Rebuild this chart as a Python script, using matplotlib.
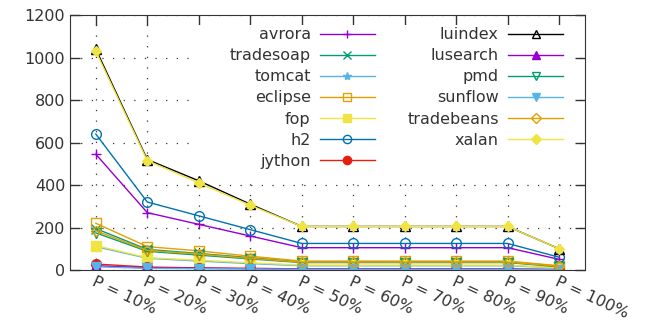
import matplotlib
matplotlib.use("Agg")
import matplotlib.pyplot as plt
from matplotlib.patches import Rectangle

labels = ["P = 10%", "P = 20%", "P = 30%", "P = 40%", "P = 50%",
          "P = 60%", "P = 70%", "P = 80%", "P = 90%", "P = 100%"]

avrora     = [545, 270, 215, 160, 105, 105, 105, 105, 105, 50]
tradesoap  = [195, 97, 78, 58, 38, 38, 38, 38, 38, 18]
tomcat     = [110, 55, 42, 30, 20, 20, 20, 20, 20, 10]
eclipse    = [220, 110, 90, 65, 42, 42, 42, 42, 42, 20]
fop        = [115, 58, 46, 34, 23, 23, 23, 23, 23, 10]
h2         = [640, 320, 255, 190, 125, 125, 125, 125, 125, 60]
jython     = [28, 14, 10, 8, 5, 5, 5, 5, 5, 2]
luindex    = [1040, 520, 420, 310, 205, 205, 205, 205, 205, 100]
lusearch   = [20, 10, 8, 6, 4, 4, 4, 4, 4, 2]
pmd        = [175, 88, 70, 52, 35, 35, 35, 35, 35, 15]
sunflow    = [15, 8, 6, 5, 3, 3, 3, 3, 3, 1]
tradebeans = [185, 92, 75, 55, 37, 37, 37, 37, 37, 17]
xalan      = [1030, 515, 410, 305, 205, 205, 205, 205, 205, 100]

# name, data, colour, marker, filled
series = [
    ("avrora", avrora, "#9400d3", "+", True),
    ("tradesoap", tradesoap, "#009e73", "x", True),
    ("tomcat", tomcat, "#56b4e9", "*", True),
    ("eclipse", eclipse, "#e69f00", "s", False),
    ("fop", fop, "#f0e442", "s", True),
    ("h2", h2, "#0072b2", "o", False),
    ("jython", jython, "#e51e10", "o", True),
    ("luindex", luindex, "#000000", "^", False),
    ("lusearch", lusearch, "#9400d3", "^", True),
    ("pmd", pmd, "#009e73", "v", False),
    ("sunflow", sunflow, "#56b4e9", "v", True),
    ("tradebeans", tradebeans, "#e69f00", "D", False),
    ("xalan", xalan, "#f0e442", "D", True),
]

plt.rcParams["font.family"] = "DejaVu Sans"
plt.rcParams["font.size"] = 11.5

fig = plt.figure(figsize=(6.55, 3.22), dpi=100)
ax = fig.add_axes([0.107, 0.1615, 0.786, 0.7915])

x = list(range(len(labels)))
for name, vals, col, mk, filled in series:
    ms = 5.5 if mk == "D" else 7
    ax.plot(x, vals, color=col, lw=1.0, marker=mk, markersize=ms,
            markerfacecolor=col if filled else "none",
            markeredgecolor=col, markeredgewidth=1.0, label=name)

ax.set_xlim(-0.5, 9.5)
ax.set_ylim(0, 1200)
ax.set_yticks(range(0, 1201, 200))
ax.set_xticks(x)
ax.set_xticklabels(labels, rotation=-25, ha="left", va="top",
                   rotation_mode="anchor", color="#333333")
for t in ax.get_yticklabels():
    t.set_color("#333333")

ax.tick_params(direction="in", length=7, top=True, right=True, width=1,
               color="#333333")
ax.tick_params(axis="x", pad=3)
ax.grid(True, color="#333333", linestyle=(0, (1, 7.5)), linewidth=0.9)
ax.set_axisbelow(True)
for s in ax.spines.values():
    s.set_color("#333333")

# white key area hides the grid behind the legend
ax.add_patch(Rectangle((0.233, 0.3725), 0.742, 0.589, transform=ax.transAxes,
                       facecolor="white", edgecolor="none", zorder=1.5))

leg = ax.legend(ncol=2, loc="upper right", bbox_to_anchor=(0.963, 0.965),
                markerfirst=False, frameon=False,
                handlelength=3.4, handletextpad=0.6, columnspacing=2.05,
                labelspacing=0.38, borderpad=0.2, borderaxespad=0,
                numpoints=1, markerscale=0.85)
for t in leg.get_texts():
    t.set_color("#333333")

fig.savefig("out.png", dpi=100)
